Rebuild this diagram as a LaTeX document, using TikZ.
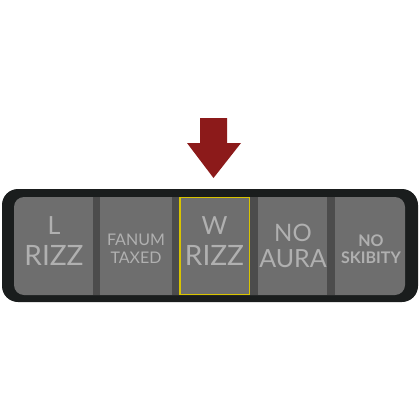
\documentclass[tikz,border=0pt]{standalone}
\usepackage{fontspec}
\setmainfont{Lato}
\definecolor{frameblack}{HTML}{1A1D1D}
\definecolor{cellgray}{HTML}{6E6E6E}
\definecolor{divgray}{HTML}{4C4C4C}
\definecolor{labelgray}{HTML}{B0B0B0}
\definecolor{selyellow}{HTML}{D8C400}
\definecolor{arrowred}{HTML}{8C1A1A}
\tikzset{
  lbl/.style={text=labelgray, inner sep=0pt, anchor=center},
  divider/.style={fill=divgray, draw=none},
}
\begin{document}
\begin{tikzpicture}[x=1pt,y=-1pt]
\useasboundingbox (0,0) rectangle (420,420);
\fill[white] (0,0) rectangle (420,420);
% outer frame
\fill[frameblack, rounded corners=16pt] (2,189) rectangle (418,302);
% inner panel
\fill[cellgray, rounded corners=10pt] (14,197) rectangle (405,295);
% dividers
\fill[divider] (93,197) rectangle (100,295);
\fill[divider] (172,197) rectangle (179,295);
\fill[divider] (250,197) rectangle (258,295);
\fill[divider] (327,197) rectangle (335,295);
% selected cell
\draw[selyellow, line width=1.2pt] (180,197.6) rectangle (249.5,294.4);
% arrow
\fill[arrowred] (200,118) -- (227,118) -- (227,143) -- (241,143) -- (213.5,178) -- (187,143) -- (200,143) -- cycle;
% labels
\node[lbl, font=\fontsize{25}{25}\selectfont] (l1) at (54,226) {L};
\node[lbl, font=\fontsize{28}{28}\selectfont] (r1) at (54,255) {RIZZ};
\node[lbl, font=\fontsize{16}{16}\selectfont] (f1) at (136,240) {FANUM};
\node[lbl, font=\fontsize{16}{16}\selectfont] (t1) at (136,258) {TAXED};
\node[lbl, font=\fontsize{25}{25}\selectfont] (w1) at (214.5,226) {W};
\node[lbl, font=\fontsize{28}{28}\selectfont] (r2) at (214.5,255) {RIZZ};
\node[lbl, font=\fontsize{24}{24}\selectfont] (n1) at (293,233) {NO};
\node[lbl, font=\fontsize{25}{25}\selectfont] (a1) at (293,259) {AURA};
\node[lbl, font=\bfseries\fontsize{16}{16}\selectfont] (n2) at (371,241) {NO};
\node[lbl, font=\bfseries\fontsize{16}{16}\selectfont] (s1) at (371,258) {SKIBITY};
\end{tikzpicture}
\end{document}
